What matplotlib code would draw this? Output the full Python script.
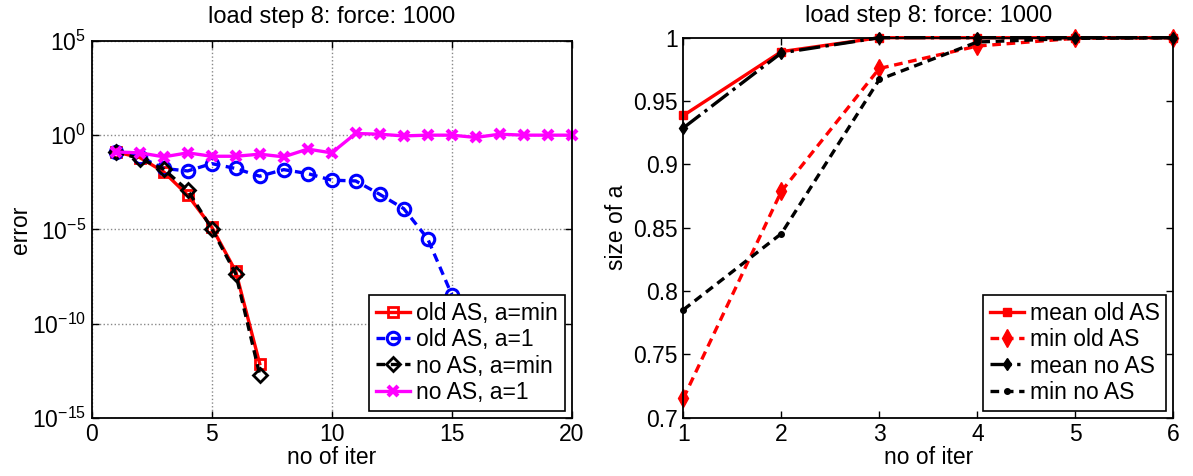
import matplotlib
matplotlib.use("Agg")
import matplotlib.pyplot as plt
import numpy as np

plt.rcParams['font.family'] = ['Liberation Sans', 'DejaVu Sans']
plt.rcParams['mathtext.fontset'] = 'custom'
plt.rcParams['mathtext.rm'] = 'Liberation Sans'
plt.rcParams['mathtext.it'] = 'Liberation Sans'
plt.rcParams['font.size'] = 16.5

# error per iteration, stored as log10 values
iters_old_min = [1, 2, 3, 4, 5, 6, 7]
log_err_old_min = [-0.89, -1.19, -1.95, -3.19, -4.88, -7.23, -12.13]

iters_old_one = list(range(1, 16))
log_err_old_one = [-0.89, -1.15, -1.77, -1.90, -1.51, -1.77, -2.18, -1.83,
                   -2.04, -2.39, -2.43, -3.14, -3.90, -5.50, -8.46]

iters_no_min = [1, 2, 3, 4, 5, 6, 7]
log_err_no_min = [-0.89, -1.24, -1.81, -2.93, -4.96, -7.36, -12.71]

iters_no_one = list(range(1, 21))
log_err_no_one = [-0.89, -0.94, -1.15, -0.94, -1.12, -1.12, -1.01, -1.15,
                  -0.74, -0.94, 0.09, 0.05, -0.04, 0.0, 0.0, -0.12, 0.05,
                  0.0, 0.0, 0.0]

# step size a per iteration
iters_a = [1, 2, 3, 4, 5, 6]
mean_old = [0.9386, 0.989, 1.0, 1.0, 1.0, 1.0]
min_old = [0.7153, 0.8787, 0.9757, 0.9934, 0.9995, 1.0]
mean_no = [0.9288, 0.988, 1.0, 1.0, 1.0, 1.0]
min_no = [0.7852, 0.8453, 0.967, 0.9966, 0.9995, 1.0]

fig = plt.figure(figsize=(11.93, 4.76), dpi=100)
ax1 = fig.add_axes([0.0769, 0.1225, 0.4023, 0.7914])
ax2 = fig.add_axes([0.5728, 0.1225, 0.4107, 0.7983])

lw = 2.4
dash = (2.6, 1.7)
ax1.semilogy(iters_old_min, 10.0 ** np.array(log_err_old_min), '-s', color='red',
             lw=lw, ms=7, mfc='none', mew=2, label='old AS, a=min', clip_on=False)
ax1.semilogy(iters_old_one, 10.0 ** np.array(log_err_old_one), '--o', color='blue',
             lw=lw, ms=9, mfc='none', mew=2.2, dashes=dash, label='old AS, a=1')
ax1.semilogy(iters_no_min, 10.0 ** np.array(log_err_no_min), '--D', color='black',
             lw=lw, ms=7, mfc='none', mew=2, dashes=dash, label='no AS, a=min')
ax1.semilogy(iters_no_one, 10.0 ** np.array(log_err_no_one), '-x', color='magenta',
             lw=lw, ms=7, mew=3, label='no AS, a=1', clip_on=False)
ax1.set_xlim(0, 20)
ax1.set_ylim(1e-15, 1e5)
ax1.set_xticks([0, 5, 10, 15, 20])
ax1.set_yticks([1e-15, 1e-10, 1e-5, 1e0, 1e5])
ax1.set_yticklabels([r'$10^{-15}$', r'$10^{-10}$', r'$10^{-5}$', r'$10^{0}$', r'$10^{5}$'])
ax1.minorticks_off()
ax1.grid(True, linestyle=':', color='#888888', lw=1)
ax1.set_xlabel('no of iter', labelpad=0)
ax1.set_ylabel('error', labelpad=0)
ax1.set_title('load step 8: force: 1000', fontsize=17, pad=13)

ax2.plot(iters_a, mean_old, '-s', color='red', lw=lw, ms=6, label='mean old AS',
         clip_on=False)
ax2.plot(iters_a, min_old, '--d', color='red', lw=lw, ms=9, dashes=dash,
         label='min old AS', clip_on=False)
ax2.plot(iters_a, mean_no, '-.d', color='black', lw=lw, ms=6, label='mean no AS',
         clip_on=False)
ax2.plot(iters_a, min_no, '--.', color='black', lw=lw, ms=8, dashes=dash,
         label='min no AS', clip_on=False)
ax2.set_xlim(1, 6)
ax2.set_ylim(0.7, 1.0)
ax2.set_xticks(iters_a)
ax2.set_yticks([0.7, 0.75, 0.8, 0.85, 0.9, 0.95, 1.0])
ax2.set_yticklabels(['0.7', '0.75', '0.8', '0.85', '0.9', '0.95', '1'])
ax2.set_xlabel('no of iter', labelpad=0)
ax2.set_ylabel('size of a', labelpad=4)
ax2.set_title('load step 8: force: 1000', fontsize=17, pad=11)

for ax in (ax1, ax2):
    ax.tick_params(direction='in', top=True, right=True, length=5, width=1, pad=4)
    for s in ax.spines.values():
        s.set_linewidth(1.3)
    leg = ax.legend(loc='lower right', fancybox=False, edgecolor='black',
                    handlelength=1.5, handletextpad=0.25, borderpad=0.3,
                    labelspacing=0.15, borderaxespad=0.3, framealpha=1)
    leg.get_frame().set_linewidth(1.2)

fig.savefig('out.png', dpi=100)
